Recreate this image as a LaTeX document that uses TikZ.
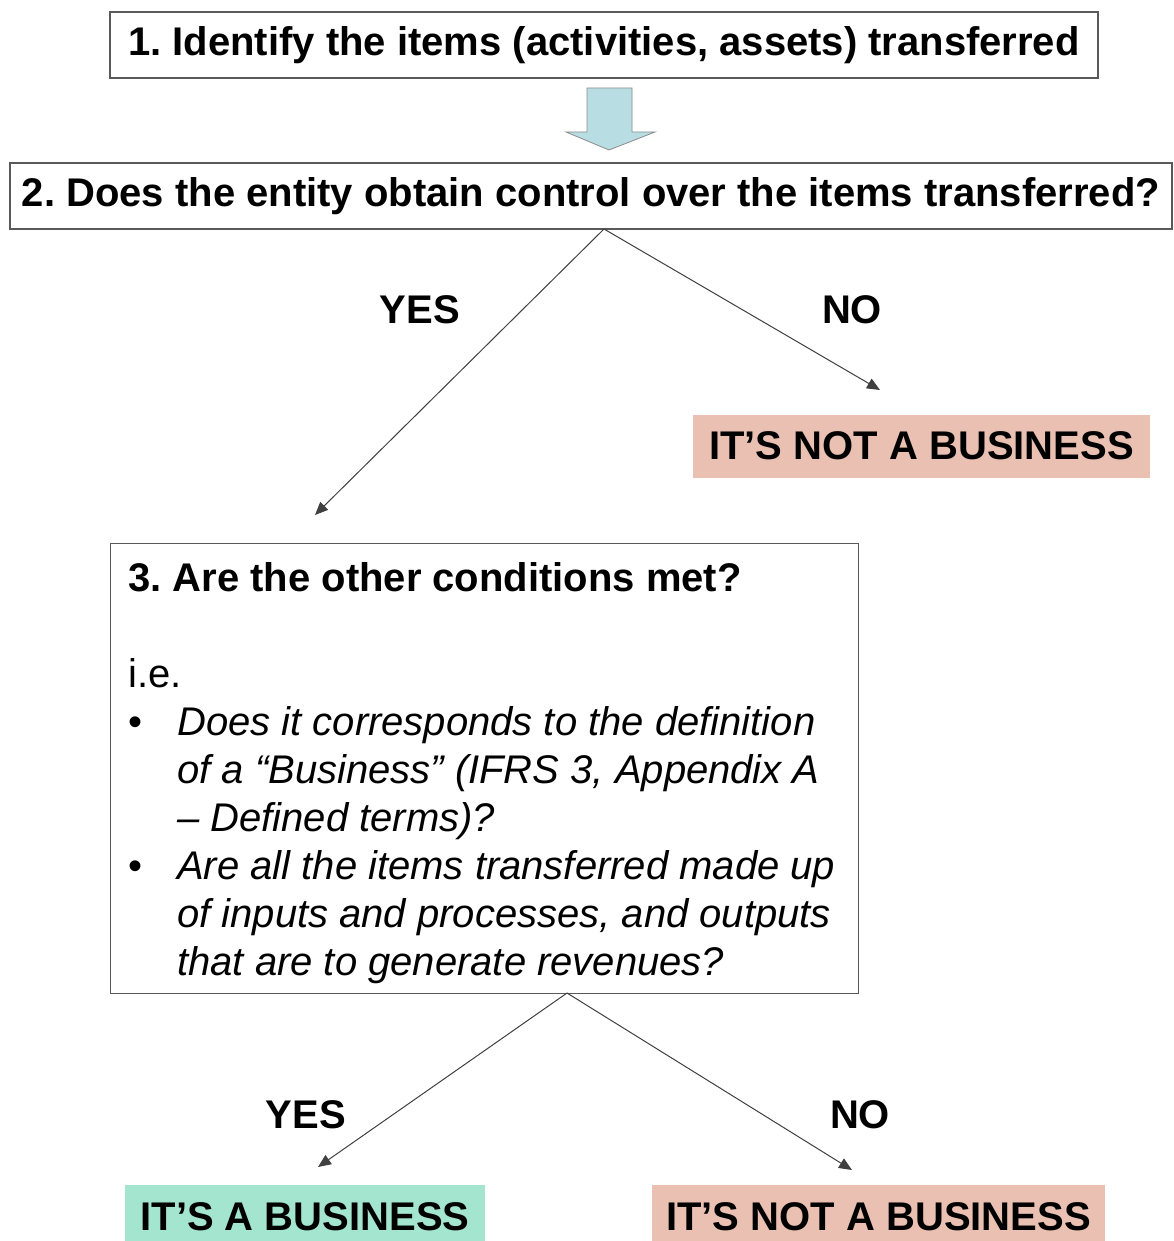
\documentclass[tikz,border=0pt]{standalone}
\usepackage{fontspec}
\setmainfont{Liberation Sans}
\usetikzlibrary{positioning, arrows.meta}
\definecolor{salmon}{RGB}{233,192,177}
\definecolor{mint}{RGB}{163,229,207}
\definecolor{flowblue}{RGB}{184,222,228}
\frenchspacing
\newcommand{\bigbold}{\fontsize{40}{47}\selectfont\bfseries}
\newcommand{\bodytext}{\fontsize{40}{48}\selectfont}
\tikzset{
  stepbox/.style={rectangle, draw=black!65, line width=1.3pt, fill=white, font=\bigbold, inner sep=0pt},
  result/.style={rectangle, minimum height=63pt, font=\bigbold, inner sep=0pt},
  answer/.style={font=\bigbold},
  arrow/.style={draw=black!75, line width=1pt, -{Triangle[length=13pt,width=11pt]}}
}

\begin{document}
\begin{tikzpicture}[x=1pt, y=-1pt]
    \useasboundingbox (0,0) rectangle (1174,1241);

    % Paso 1 y paso 2
    \node[stepbox, minimum width=988pt, minimum height=66pt] (identify) at (604,45) {1. Identify the items (activities, assets) transferred};
    \node[stepbox, minimum width=1162pt, minimum height=66pt] (control) at (591,196) {2. Does the entity obtain control over the items transferred?};

    % Flecha gruesa entre los pasos
    \draw[draw=black!45, line width=0.8pt, fill=flowblue]
        (587,88) -- (632,88) -- (632,132) -- (655,132) -- (609,150) -- (566,132) -- (587,132) -- cycle;

    % Primera decision
    \coordinate (fork1) at (604,229);
    \coordinate (yesend1) at (315,515);
    \coordinate (noend1) at (880,390);
    \draw[arrow] (fork1) -- (yesend1);
    \draw[arrow] (fork1) -- (noend1);
    \node[answer] (yes1) at (420,310) {YES};
    \node[answer] (no1) at (852,310) {NO};
    \node[result, fill=salmon, minimum width=457pt] (notbiz1) at (921.5,446) {IT’S NOT A BUSINESS};

    % Paso 3
    \node[stepbox, anchor=north west, minimum width=748pt, minimum height=450pt] (cond) at (110,543) {};
    \node[anchor=north west, inner sep=0pt, align=left, font=\bodytext] (condtext) at (128,562) {%
        \textbf{3. Are the other conditions met?}\\[48pt]
        i.e.\\
        \begin{tabular}[t]{@{}p{49pt}@{}l@{}}
        \textbullet & \textit{Does it corresponds to the definition}\\
                    & \textit{of a “Business” (IFRS 3, Appendix A}\\
                    & \textit{– Defined terms)?}\\
        \textbullet & \textit{Are all the items transferred made up}\\
                    & \textit{of inputs and processes, and outputs}\\
                    & \textit{that are to generate revenues?}
        \end{tabular}};

    % Segunda decision
    \coordinate (fork2) at (567,993);
    \coordinate (yesend2) at (318,1167);
    \coordinate (noend2) at (852,1170);
    \draw[arrow] (fork2) -- (yesend2);
    \draw[arrow] (fork2) -- (noend2);
    \node[answer] (yes2) at (306,1115) {YES};
    \node[answer] (no2) at (860,1115) {NO};
    \node[result, fill=mint, minimum width=360pt, minimum height=64pt] (isbiz) at (305,1217) {IT’S A BUSINESS};
    \node[result, fill=salmon, minimum width=453pt, minimum height=64pt] (notbiz2) at (878.5,1217) {IT’S NOT A BUSINESS};
\end{tikzpicture}
\end{document}
